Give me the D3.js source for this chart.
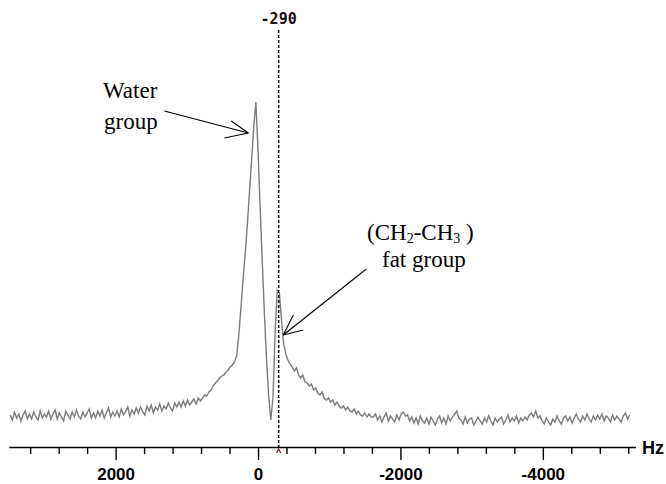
<!DOCTYPE html>
<html><head><meta charset="utf-8">
<script src="https://cdn.jsdelivr.net/npm/d3@7"></script>
<style>
html,body{margin:0;padding:0;background:#fff;}
svg{display:block;}
</style></head>
<body>
<svg id="chart" width="666" height="484"></svg>
<script>
// NMR spectrum sampled on a 30 Hz grid, from +3480 Hz toward negative offsets
const START_HZ = 3480;
const STEP_HZ = 30;
const signal = [
  15,10,18,12,16,9,15,19,11,16,
  11,18,13,10,19,12,16,13,19,11,
  16,20,11,17,13,9,19,15,11,18,
  13,20,14,11,18,13,17,21,12,17,
  12,19,14,20,12,17,22,13,18,14,
  19,13,21,15,18,23,14,20,16,22,
  17,23,18,15,24,19,25,17,23,20,
  26,19,24,21,27,22,19,27,23,28,
  23,29,24,30,25,28,31,26,32,29,
  32,35,34,38,40,44,47,49,52,54,
  55,58,60,63,65,68,74,95,122,150,
  176,205,238,270,303,328,280,222,168,116,
  70,34,10,32,98,140,137,110,86,76,
  70,66,63,59,62,55,52,55,48,47,
  44,46,40,42,37,35,38,32,30,32,
  28,30,25,28,24,22,24,20,23,19,
  18,21,16,19,15,14,17,13,16,13,
  13,16,10,14,8,13,17,9,14,11,
  8,15,10,16,18,14,15,9,13,7,
  12,6,14,9,7,12,6,13,9,5,
  11,14,7,12,6,14,9,13,16,19,
  12,10,6,13,7,11,12,5,9,13,
  9,6,12,8,14,9,5,12,8,11,
  13,6,10,15,8,12,9,14,7,12,
  9,13,10,15,17,13,19,12,14,9,
  6,12,8,5,11,8,14,9,6,12,
  14,9,13,7,12,16,11,8,14,10,
  16,11,8,14,10,15,11,16,9,14,
  12,8,15,10,14,11,8,14,17,11,15
];

// Axis ticks (Hz)
const majorTicks = [2000, 0, -2000, -4000];
const minorTicks = [3200, 2800, 2400, 1600, 1200, 800, 400, -400, -800, -1200, -1600,
                    -2400, -2800, -3200, -3600, -4400, -4800, -5200];
const unitLabel = "Hz";

// Cursor marker
const markerHz = -290;
const markerLabel = "-290";

// Annotations: arrow tip and tail in data units [Hz, intensity]
const waterArrow = { tail: [1316, 319], tip: [136, 297] };
const fatArrow = { tail: [-1521, 161], tip: [-355, 95] };

const svg = d3.select("#chart");
const axisY = 447;

const x = d3.scaleLinear().domain([3500, -5300]).range([8.8, 635.4]);
const y = d3.scaleLinear().domain([0, 340]).range([430, 90]);

// Spectrum trace
const line = d3.line()
  .x((d, i) => x(START_HZ - i * STEP_HZ))
  .y(d => y(d));

svg.append("path")
  .datum(signal)
  .attr("fill", "none")
  .attr("stroke", "#7c7c7c")
  .attr("stroke-width", 1.4)
  .attr("stroke-linejoin", "miter")
  .attr("d", line);

// Frequency axis: minor ticks with the baseline, then labelled major ticks
const minorAxis = d3.axisBottom(x).tickValues(minorTicks).tickSize(7).tickSizeOuter(0).tickFormat("");
const gMinor = svg.append("g").attr("transform", `translate(0,${axisY})`).call(minorAxis);
gMinor.select(".domain").attr("stroke", "#000").attr("stroke-width", 1.6);
gMinor.selectAll(".tick line").attr("stroke", "#000").attr("stroke-width", 1.4);

const majorAxis = d3.axisBottom(x).tickValues(majorTicks).tickSize(13).tickFormat(d => String(d));
const gMajor = svg.append("g").attr("transform", `translate(0,${axisY})`).call(majorAxis);
gMajor.select(".domain").remove();
gMajor.selectAll(".tick line").attr("stroke", "#000").attr("stroke-width", 1.4);
gMajor.selectAll(".tick text")
  .attr("y", 33).attr("dy", null)
  .attr("fill", "#000")
  .style("font-family", "'Liberation Sans',Arial,sans-serif")
  .style("font-weight", "bold")
  .style("font-size", "17px");

svg.append("text")
  .attr("x", 642).attr("y", 454)
  .style("font-family", "'Liberation Sans',Arial,sans-serif")
  .style("font-weight", "bold").style("font-size", "18px")
  .text(unitLabel);

// Cursor line at the fat resonance
svg.append("line")
  .attr("x1", x(markerHz)).attr("x2", x(markerHz))
  .attr("y1", 30).attr("y2", axisY)
  .attr("stroke", "#000").attr("stroke-width", 1.5)
  .attr("stroke-dasharray", "3,2");

svg.append("text")
  .attr("x", x(markerHz)).attr("y", 24)
  .attr("text-anchor", "middle")
  .style("font-family", "'DejaVu Sans Mono',monospace")
  .style("font-weight", "bold").style("font-size", "15px")
  .attr("fill", "#1a0a0a")
  .text(markerLabel);

svg.append("path")
  .attr("transform", `translate(${x(markerHz)},${axisY + 2})`)
  .attr("d", "M-2,4L0,0L2,4")
  .attr("fill", "none").attr("stroke", "#7a1a1a").attr("stroke-width", 1.2);

// Annotation arrows (open heads)
function arrow(a, barbs) {
  const tx = x(a.tip[0]), ty = y(a.tip[1]);
  const g = svg.append("g").attr("stroke", "#000").attr("stroke-width", 1.1).attr("fill", "none");
  g.append("line").attr("x1", x(a.tail[0])).attr("y1", y(a.tail[1])).attr("x2", tx).attr("y2", ty);
  barbs.forEach(b => g.append("line").attr("x1", tx).attr("y1", ty).attr("x2", tx + b[0]).attr("y2", ty + b[1]));
}
arrow(waterArrow, [[-17, -12], [-24, 5]]);
arrow(fatArrow, [[10, -20], [20, -5]]);

// Annotation text
const serif = "'Liberation Serif','Times New Roman',Times,serif";
function label(px, py, str) {
  return svg.append("text").attr("x", px).attr("y", py)
    .style("font-family", serif).style("font-size", "23px").attr("fill", "#000").text(str);
}
label(103, 98, "Water");
label(104, 129, "group");

const chem = svg.append("text").attr("x", 367).attr("y", 240)
  .style("font-family", serif).style("font-size", "23px").attr("fill", "#000");
chem.append("tspan").text("(CH");
chem.append("tspan").attr("dy", 3).style("font-size", "14px").text("2");
chem.append("tspan").attr("dy", -3).text("-CH");
chem.append("tspan").attr("dy", 3).style("font-size", "14px").text("3");
chem.append("tspan").attr("dy", -3).text(" )");
label(382, 267, "fat group");
</script>
</body></html>
